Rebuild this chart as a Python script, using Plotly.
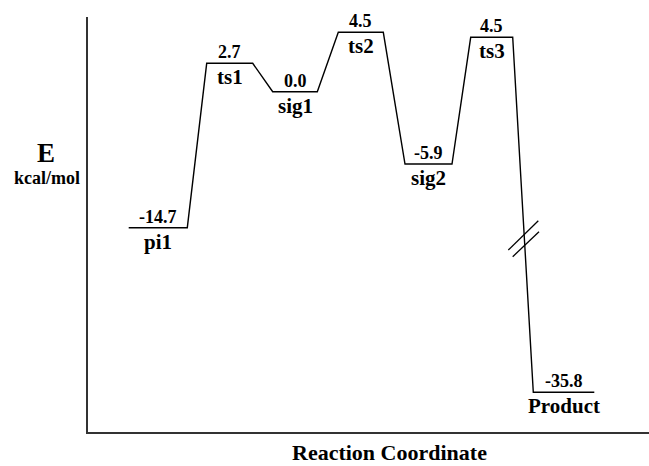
import plotly.graph_objects as go

# ---- data (diagram units: x along reaction coordinate, y = drawn level height) ----
states = ["pi1", "ts1", "sig1", "ts2", "sig2", "ts3", "Product"]
energies = ["-14.7", "2.7", "0.0", "4.5", "-5.9", "4.5", "-35.8"]
level_start = [40.7, 118.7, 184.7, 250.3, 317.0, 382.7, 445.3]
level_end = [99.3, 164.7, 229.3, 295.3, 364.0, 424.7, 506.3]
level_height = [204.3, 368.7, 340.3, 399.7, 268.0, 394.7, 39.7]

# axis-break marks on the final descent
break_x0 = [420.3, 424.7]
break_y0 = [182.0, 175.3]
break_x1 = [450.3, 451.0]
break_y1 = [211.3, 200.3]

x_range = [0, 561]
y_range = [0, 415]

FONT = "Liberation Serif"

px, py = [], []
for s, e, h in zip(level_start, level_end, level_height):
    px += [s, e]
    py += [h, h]

fig = go.Figure()
fig.add_trace(go.Scatter(x=px, y=py, mode="lines",
                         line=dict(color="black", width=1.4),
                         hoverinfo="skip", showlegend=False))

shapes = []
for a, b, c, d in zip(break_x0, break_y0, break_x1, break_y1):
    shapes.append(dict(type="line", xref="x", yref="y", x0=a, y0=b, x1=c, y1=d,
                       line=dict(color="black", width=1.3)))

ann = []
for name, en, s, e, h in zip(states, energies, level_start, level_end, level_height):
    cx = (s + e) / 2
    ann.append(dict(x=cx, y=h + 11, xref="x", yref="y", text=en, showarrow=False,
                    xanchor="center", yanchor="middle",
                    font=dict(family=FONT, size=18, color="black", weight="bold")))
    ann.append(dict(x=cx, y=h - 14, xref="x", yref="y", text=name, showarrow=False,
                    xanchor="center", yanchor="middle",
                    font=dict(family=FONT, size=21, color="black", weight="bold")))

ann.append(dict(x=-0.0749, y=0.672, xref="paper", yref="paper", text="E",
                showarrow=False, xanchor="center", yanchor="middle",
                font=dict(family=FONT, size=27, color="black", weight="bold")))
ann.append(dict(x=-0.0731, y=0.612, xref="paper", yref="paper", text="kcal/mol",
                showarrow=False, xanchor="center", yanchor="middle",
                font=dict(family=FONT, size=18, color="black", weight="bold")))
ann.append(dict(x=0.5374, y=-0.0506, xref="paper", yref="paper",
                text="Reaction Coordinate", showarrow=False,
                xanchor="center", yanchor="middle",
                font=dict(family=FONT, size=22, color="black", weight="bold")))

axis_common = dict(showline=True, linecolor="#333333", linewidth=1.5, showgrid=False,
                   zeroline=False, showticklabels=False, ticks="", fixedrange=True)

fig.update_layout(
    width=649, height=466,
    margin=dict(l=88, r=0, t=17, b=34),
    paper_bgcolor="white", plot_bgcolor="white",
    xaxis=dict(range=x_range, **axis_common),
    yaxis=dict(range=y_range, **axis_common),
    shapes=shapes, annotations=ann, showlegend=False,
)

fig.write_html("out.html", config=dict(displayModeBar=False),
               post_script="document.body.style.margin='0';")
